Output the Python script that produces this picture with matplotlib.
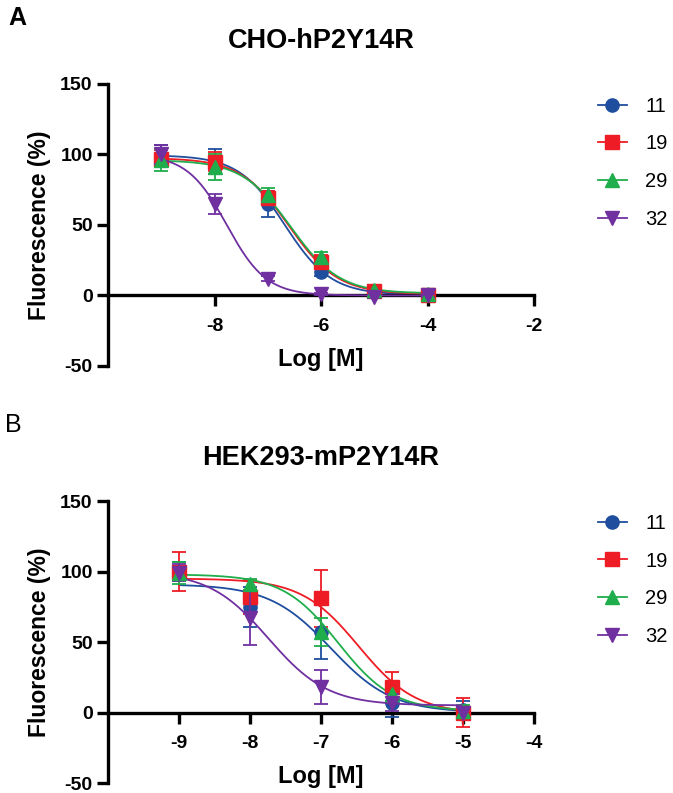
import numpy as np
import matplotlib
matplotlib.use("Agg")
import matplotlib.pyplot as plt

plt.rcParams["font.family"] = ["Liberation Sans", "DejaVu Sans"]
plt.rcParams["axes.unicode_minus"] = False

# compound labels and colours
compounds = ["11", "19", "29", "32"]
colors = ["#1f4e9e", "#ee1c25", "#1fae4b", "#7030a0"]
markers = ["o", "s", "^", "v"]

# panel A: CHO-hP2Y14R
log_a = [-9, -8, -7, -6, -5, -4]
mean_a = {
    "11": [99, 95, 65, 17, 3, 0],
    "19": [97, 95, 69, 24, 3, 0],
    "29": [96, 91, 71, 27, 4, 1],
    "32": [100, 65, 12, 1, -1, 0],
}
sem_a = {
    "11": [8, 9, 9, 3, 2, 1],
    "19": [6, 7, 5, 5, 2, 1],
    "29": [8, 9, 5, 4, 2, 1],
    "32": [7, 7, 2, 1, 1, 1],
}
# fitted 4PL parameters (top, bottom, logIC50, hill)
fit_a = {
    "11": [99.5, 0.5, -6.68, 1.0],
    "19": [97.5, 1.0, -6.60, 0.95],
    "29": [96.0, 1.5, -6.57, 0.95],
    "32": [100.0, 0.0, -7.77, 1.17],
}

# panel B: HEK293-mP2Y14R
log_b = [-9, -8, -7, -6, -5]
mean_b = {
    "11": [100, 75, 57, 7, 2],
    "19": [100, 82, 81, 18, 0],
    "29": [99, 91, 57, 13, 1],
    "32": [99, 67, 18, 7, 0],
}
sem_b = {
    "11": [7, 14, 19, 10, 6],
    "19": [14, 12, 20, 11, 10],
    "29": [8, 4, 10, 5, 4],
    "32": [6, 19, 12, 6, 4],
}
fit_b = {
    "11": [91.0, 0.0, -6.86, 1.0],
    "19": [95.0, -1.0, -6.47, 1.08],
    "29": [98.0, 1.0, -6.76, 1.12],
    "32": [100.0, 5.0, -7.74, 1.04],
}


def logistic(x, top, bottom, c, h):
    return bottom + (top - bottom) / (1 + 10 ** ((x - c) * h))


def panel(ax, logx, means, sems, fits, xticks, title):
    xs = np.linspace(logx[0], logx[-1], 300)
    for i in [3, 2, 1, 0]:
        k = compounds[i]
        ax.plot(xs, logistic(xs, *fits[k]), color=colors[i], lw=1.3, zorder=2 + i)
        ax.errorbar(logx, means[k], yerr=sems[k], fmt="none", ecolor=colors[i],
                    elinewidth=1.3, capsize=5, capthick=1.3, zorder=2 + i)
        ax.plot(logx, means[k], ls="none", marker=markers[i], ms=9.5,
                color=colors[i], zorder=3 + i)
    ax.set_xlim(-10, xticks[-1])
    ax.set_ylim(-50, 150)
    ax.set_xticks(xticks)
    ax.set_yticks([-50, 0, 50, 100, 150])
    ax.spines["top"].set_visible(False)
    ax.spines["right"].set_visible(False)
    ax.spines["bottom"].set_position(("data", 0))
    for s in ["left", "bottom"]:
        ax.spines[s].set_linewidth(2.4)
    ax.tick_params(width=2.4, length=8, labelsize=14)
    ax.tick_params(axis="x", pad=8)
    ax.tick_params(axis="y", pad=3)
    for lab in ax.get_xticklabels() + ax.get_yticklabels():
        lab.set_fontweight("bold")
    ax.set_ylabel("Fluorescence (%)", fontsize=16.5, fontweight="bold")
    ax.yaxis.set_label_coords(-0.135, 0.5)
    ax.set_xlabel("Log [M]", fontsize=17, fontweight="bold")
    ax.xaxis.set_label_coords(0.5, 0.065)
    ax.set_title(title, fontsize=19.5, fontweight="bold", pad=26)
    handles = [plt.Line2D([], [], color=colors[i], marker=markers[i], ms=9.5, lw=1.3)
               for i in range(4)]
    ax.legend(handles, compounds, loc="upper left", bbox_to_anchor=(1.107, 1.019),
              frameon=False, fontsize=14.5, handlelength=1.45, handletextpad=0.9,
              labelspacing=0.93)


fig = plt.figure(figsize=(6.73, 7.93), dpi=100)
ax1 = fig.add_axes([0.1605, 0.5385, 0.633, 0.3556])
ax2 = fig.add_axes([0.1605, 0.0126, 0.633, 0.3556])

panel(ax1, log_a, mean_a, sem_a, fit_a, [-8, -6, -4, -2], "CHO-hP2Y14R")
panel(ax2, log_b, mean_b, sem_b, fit_b, [-9, -8, -7, -6, -5, -4], "HEK293-mP2Y14R")
ax1.title.set_position((0.5, 0.995))
ax2.title.set_position((0.5, 1.005))

fig.text(0.012, 0.977, "A", fontsize=18, fontweight="bold", va="center")
fig.text(0.008, 0.464, "B", fontsize=18, va="center")

fig.savefig("out.png", dpi=100)
